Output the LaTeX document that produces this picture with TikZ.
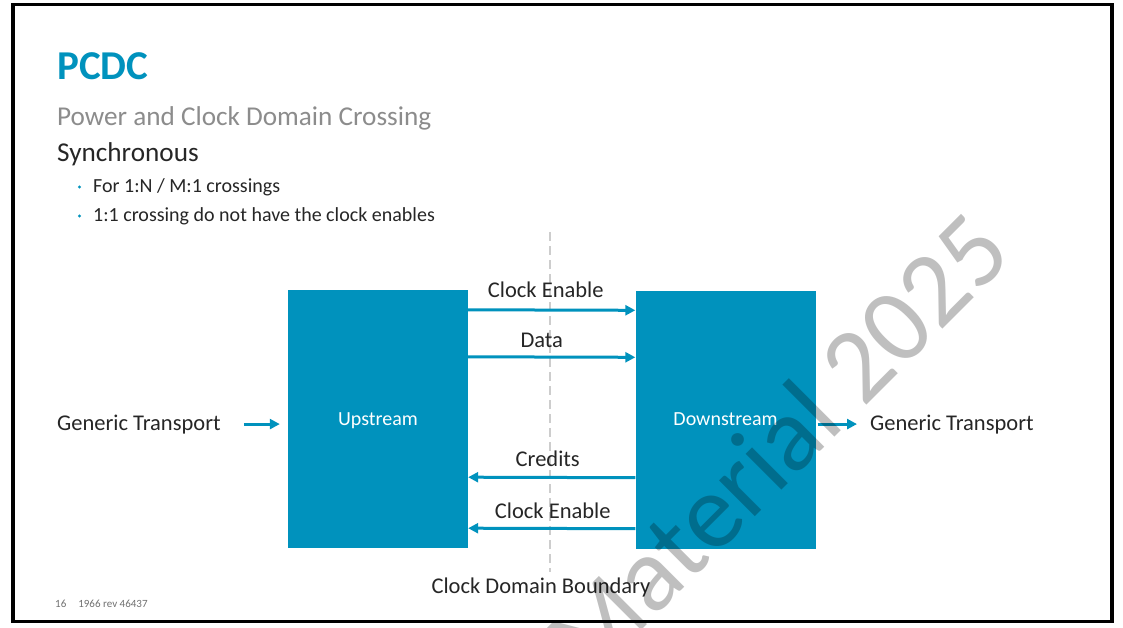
\documentclass[tikz,border=0pt]{standalone}
\usepackage{fontspec}
\setmainfont{Carlito}
\usetikzlibrary{arrows.meta, positioning, calc}
\definecolor{pcdcblue}{RGB}{0,146,189}
\definecolor{subgray}{RGB}{140,140,140}
\definecolor{textdark}{RGB}{38,38,38}
\definecolor{bndgray}{RGB}{205,205,205}
\tikzset{
  block/.style={fill=pcdcblue, text=white, minimum width=180pt, minimum height=258pt, inner sep=0pt, text depth=0pt, font=\fontsize{20}{24}\selectfont},
  flow/.style={pcdcblue, line width=3pt, -{Triangle[length=10pt,width=10pt]}},
  lbl/.style={text=textdark, inner sep=0pt, font=\fontsize{22.5}{27}\selectfont},
}

\begin{document}
\begin{tikzpicture}[x=1pt,y=-1pt]
        \useasboundingbox (0,0) rectangle (1123,628);
        \fill[white] (0,0) rectangle (1123,628);
        \draw[line width=3.5pt] (13,4.7) rectangle (1112,621.3);

        % heading
        \node[anchor=base west, inner sep=0pt, text=pcdcblue, font=\fontsize{41}{49}\selectfont\bfseries] (title) at (57,80) {PCDC};
        \node[anchor=base west, inner sep=0pt, text=subgray, font=\fontsize{27.2}{32}\selectfont] (subtitle) at (57,126) {Power and Clock Domain Crossing};
        \node[anchor=base west, inner sep=0pt, text=textdark, font=\fontsize{27.2}{32}\selectfont] (sync) at (57,162) {Synchronous};
        \node[anchor=base west, inner sep=0pt, text=textdark, font=\fontsize{20}{24}\selectfont] (b1) at (93,193) {For 1:N / M:1 crossings};
        \node[anchor=base west, inner sep=0pt, text=textdark, font=\fontsize{20}{24}\selectfont] (b2) at (93,222) {1:1 crossing do not have the clock enables};
        \fill[pcdcblue] ($(b1.base west)+(-13.5,-6)$) circle (1.6pt);
        \fill[pcdcblue] ($(b2.base west)+(-13.5,-6)$) circle (1.6pt);

        % clock domain boundary
        \coordinate (bndtop) at (550,232);
        \coordinate (bndbot) at (550,572);
        \draw[bndgray, line width=1.5pt, dash pattern=on 9pt off 5pt] (bndtop) -- (bndbot);
        \node[lbl, anchor=base] (cdb) at (541,593) {Clock Domain Boundary};

        % blocks
        \node[block] (up) at (378,419) {Upstream};
        \node[block] (down) at (725.5,419.5) {Downstream};

        \draw[flow] ([yshift=-20pt]up.north east) -- ([yshift=-20pt]down.north west) node[lbl, midway, anchor=base, xshift=-6pt, yshift=13pt] {Clock Enable};
        \draw[flow] ([yshift=-67pt]up.north east) -- ([yshift=-67pt]down.north west) node[lbl, midway, anchor=base, xshift=-10pt, yshift=10pt] {Data};
        \draw[flow] ([yshift=71pt]down.south west) -- ([yshift=71pt]up.south east) node[lbl, midway, anchor=base, xshift=-4pt, yshift=11pt] {Credits};
        \draw[flow] ([yshift=20pt]down.south west) -- ([yshift=20pt]up.south east) node[lbl, midway, anchor=base, xshift=1pt, yshift=10pt] {Clock Enable};

        % generic transport
        \node[lbl, anchor=base west] (gtin) at (57,430) {Generic Transport};
        \node[lbl, anchor=base west] (gtout) at (870,430) {Generic Transport};
        \draw[flow, shorten <=23pt, shorten >=8pt] (gtin.east) -- (gtin.east -| up.west);
        \draw[flow, shorten <=2pt, shorten >=13pt] (gtout.west -| down.east) -- (gtout.west);

        % footer
        \node[anchor=base west, inner sep=0pt, text=subgray!80!black, font=\fontsize{11}{13}\selectfont] (page) at (55,607) {16\hspace{12pt}1966 rev 46437};

        % watermark
        \node[rotate=45, anchor=base east, inner sep=0pt, text=black, text opacity=0.25, font=\fontsize{106}{120}\selectfont] (wm) at (1016,256) {Material 2025};
    \end{tikzpicture}
\end{document}
